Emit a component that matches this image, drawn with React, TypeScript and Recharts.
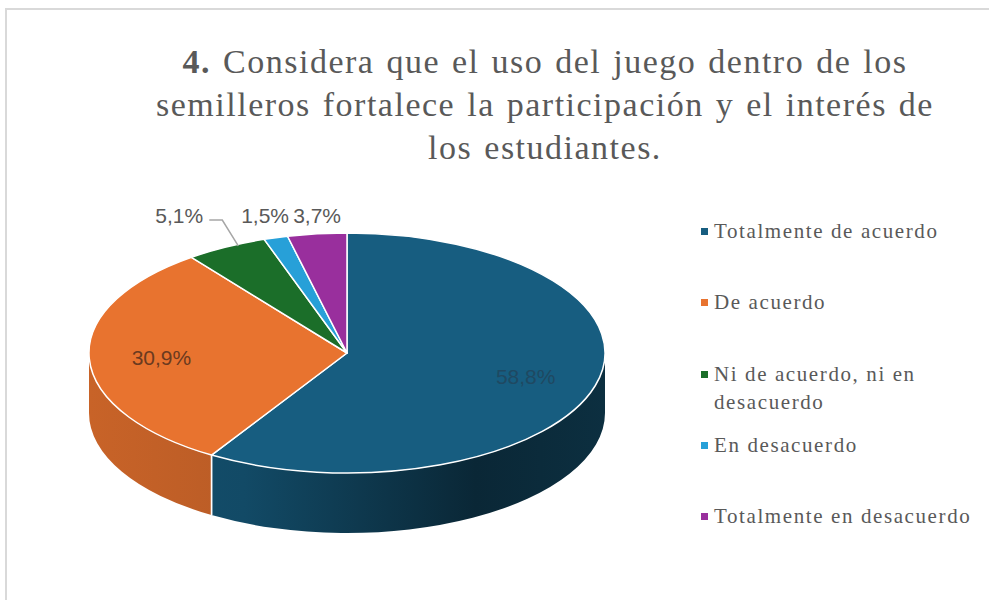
import React from 'react';
import { PieChart, Pie, Cell, Legend } from 'recharts';

// ---------- data ----------
const categories = [
  'Totalmente de acuerdo',
  'De acuerdo',
  'Ni de acuerdo, ni en desacuerdo',
  'En desacuerdo',
  'Totalmente en desacuerdo',
];
const percentages = [58.8, 30.9, 5.1, 1.5, 3.7];
const percentLabels = ['58,8%', '30,9%', '5,1%', '1,5%', '3,7%'];
const titleLines = [
  'Considera que el uso del juego dentro de los',
  'semilleros fortalece la participación y el interés de',
  'los estudiantes.',
];
const titleNumber = '4.';

const colors = ['#175d80', '#e8732f', '#1b6e29', '#27a0d8', '#992f9d'];
const insideLabelColors = ['#1f4962', '#6b3a1f'];

const data = categories.map((name, i) => ({ name, value: percentages[i], label: percentLabels[i] }));

// ---------- geometry / style constants ----------
const CX = 347;
const CY = 353;
const R = 258;
const K = 0.465; // ellipse flattening
const DEPTH = 60;
const START = 90;
const END = -270;
const SERIF = '"Liberation Serif", "Times New Roman", Times, "DejaVu Serif", serif';

const shade = (hex: string, f: number) => {
  const n = parseInt(hex.slice(1), 16);
  const r = Math.round(((n >> 16) & 255) * f);
  const g = Math.round(((n >> 8) & 255) * f);
  const b = Math.round((n & 255) * f);
  return `rgb(${r},${g},${b})`;
};

const Slice3D = (props: any) => {
  const { cx, cy, outerRadius, startAngle, endAngle, fill, index } = props;
  const r = outerRadius;
  const ry = r * K;
  const pt = (deg: number, dy = 0) => {
    const a = (deg * Math.PI) / 180;
    return [cx + r * Math.cos(a), cy - ry * Math.sin(a) + dy];
  };
  const P = (deg: number, dy = 0) => pt(deg, dy).join(',');
  const hi = Math.max(startAngle, endAngle);
  const lo = Math.min(startAngle, endAngle);
  const sides: number[][] = [];
  for (let k = -2; k <= 1; k++) {
    const a = Math.max(lo, -180 + 360 * k);
    const b = Math.min(hi, 360 * k);
    if (b > a + 0.01) sides.push([b, a]);
  }
  const gid = `side-grad-${index}`;
  const large = hi - lo > 180 ? 1 : 0;
  const isEdge = (deg: number) => Math.abs(((deg % 180) + 180) % 180) < 0.01;
  return (
    <g>
      <defs>
        <linearGradient id={gid} gradientUnits="userSpaceOnUse" x1={cx - r} y1={0} x2={cx + r} y2={0}>
          <stop offset="0" stopColor={shade(fill, 0.86)} />
          <stop offset="0.3" stopColor={shade(fill, 0.8)} />
          <stop offset="0.75" stopColor={shade(fill, 0.42)} />
          <stop offset="1" stopColor={shade(fill, 0.5)} />
        </linearGradient>
      </defs>
      {sides.map(([b, a], j) => (
        <g key={j}>
          <path
            d={`M${P(b)} A${r},${ry} 0 0 1 ${P(a)} L${P(a, DEPTH)} A${r},${ry} 0 0 0 ${P(b, DEPTH)} Z`}
            fill={`url(#${gid})`}
            stroke="none"
          />
          {!isEdge(b) && <path d={`M${P(b)} L${P(b, DEPTH)}`} stroke="#fff" strokeWidth={1.5} />}
          {!isEdge(a) && <path d={`M${P(a)} L${P(a, DEPTH)}`} stroke="#fff" strokeWidth={1.5} />}
        </g>
      ))}
      <path
        d={`M${cx},${cy} L${P(hi)} A${r},${ry} 0 ${large} 1 ${P(lo)} Z`}
        fill={fill}
        stroke="#fff"
        strokeWidth={1.5}
        strokeLinejoin="round"
      />
    </g>
  );
};

// layout of outside labels (small slices)
const total = percentages.reduce((s, v) => s + v, 0);
const midAngles = (() => {
  let acc = 0;
  return percentages.map((v) => {
    const s = START + (acc / total) * (END - START);
    acc += v;
    const e = START + (acc / total) * (END - START);
    return (s + e) / 2;
  });
})();
const outsideLayout: Record<number, { x: number; leader: boolean }> = (() => {
  const res: Record<number, { x: number; leader: boolean }> = {};
  let nextLeft = Infinity;
  for (let i = percentages.length - 1; i >= 0; i--) {
    if (percentages[i] / total >= 0.1) continue;
    const m = ((midAngles[i] % 360) + 360) % 360;
    const ax = CX + R * Math.cos((m * Math.PI) / 180);
    if (m > 110) {
      res[i] = { x: ax - 47, leader: true };
    } else {
      res[i] = { x: Math.min(ax, nextLeft - 52), leader: false };
    }
    nextLeft = res[i].x;
  }
  return res;
})();

const renderLabel = (props: any) => {
  const { cx, cy, outerRadius, midAngle, index } = props;
  const r = outerRadius;
  const ry = r * K;
  const a = (midAngle * Math.PI) / 180;
  const text = percentLabels[index];
  const common = { fontFamily: 'Liberation Sans, Arial, sans-serif', fontSize: 21 } as const;
  if (percentages[index] / total >= 0.1) {
    const f = 0.72;
    return (
      <text
        x={cx + f * r * Math.cos(a)}
        y={cy - f * ry * Math.sin(a)}
        textAnchor="middle"
        dominantBaseline="central"
        fill={insideLabelColors[index] || '#404040'}
        {...common}
      >
        {text}
      </text>
    );
  }
  const lay = outsideLayout[index];
  const ly = cy - ry - 18;
  const ax = cx + r * Math.cos(a);
  const ay = cy - ry * Math.sin(a);
  return (
    <g>
      {lay.leader && (
        <polyline
          points={`${lay.x + 30},${ly + 5} ${lay.x + 43},${ly + 5} ${ax + 12},${ay - 1}`}
          fill="none"
          stroke="#a6a6a6"
          strokeWidth={1.5}
        />
      )}
      <text x={lay.x} y={ly} textAnchor="middle" dominantBaseline="central" fill="#595959" {...common}>
        {text}
      </text>
    </g>
  );
};

const renderLegend = (props: any) => {
  const { payload } = props;
  const items = [...(payload || [])].sort(
    (p: any, q: any) => categories.indexOf(p.value) - categories.indexOf(q.value)
  );
  return (
    <div style={{ fontFamily: SERIF, fontSize: 21, letterSpacing: 1.6, color: '#595959' }}>
      {items.map((entry: any, i: number) => (
        <div key={i} style={{ position: 'relative', height: 71.3, paddingLeft: 13, lineHeight: '28px', width: 276 }}>
          <span
            style={{ position: 'absolute', left: 0, top: 11, width: 7, height: 7, background: entry.color }}
          />
          {entry.value}
        </div>
      ))}
    </div>
  );
};

export default function App() {
  return (
    <div style={{ position: 'absolute', left: 0, top: 0, width: 989, height: 600, overflow: 'hidden', background: '#fff' }}>
      <div
        style={{
          position: 'absolute',
          left: 5,
          top: 8,
          width: 1100,
          height: 700,
          borderLeft: '2px solid #d9d9d9',
          borderTop: '2px solid #d9d9d9',
        }}
      />
      <div
        style={{
          position: 'absolute',
          left: 100,
          top: 40,
          width: 890,
          textAlign: 'center',
          fontFamily: SERIF,
          fontSize: 34,
          lineHeight: '43px',
          letterSpacing: 1.5,
          wordSpacing: 2,
          color: '#595959',
          whiteSpace: 'nowrap',
        }}
      >
        <b>{titleNumber}</b> {titleLines[0]}
        <br />
        {titleLines[1]}
        <br />
        {titleLines[2]}
      </div>
      <div style={{ position: 'absolute', left: 0, top: 0 }}>
        <PieChart width={989} height={600} margin={{ top: 0, right: 0, bottom: 0, left: 0 }}>
          <Pie
            data={data}
            dataKey="value"
            nameKey="name"
            cx={CX}
            cy={CY}
            outerRadius={R}
            startAngle={START}
            endAngle={END}
            isAnimationActive={false}
            label={renderLabel}
            labelLine={false}
            shape={Slice3D}
            inactiveShape={Slice3D}
            activeShape={Slice3D}
            stroke="none"
          >
            {data.map((d, i) => (
              <Cell key={d.name} fill={colors[i]} />
            ))}
          </Pie>
          <Legend
            layout="vertical"
            align="right"
            verticalAlign="middle"
            itemSorter={null as any}
            content={renderLegend}
            wrapperStyle={{ position: 'absolute', left: 701, top: 217, width: 290, right: 'auto', bottom: 'auto' }}
          />
        </PieChart>
      </div>
    </div>
  );
}
